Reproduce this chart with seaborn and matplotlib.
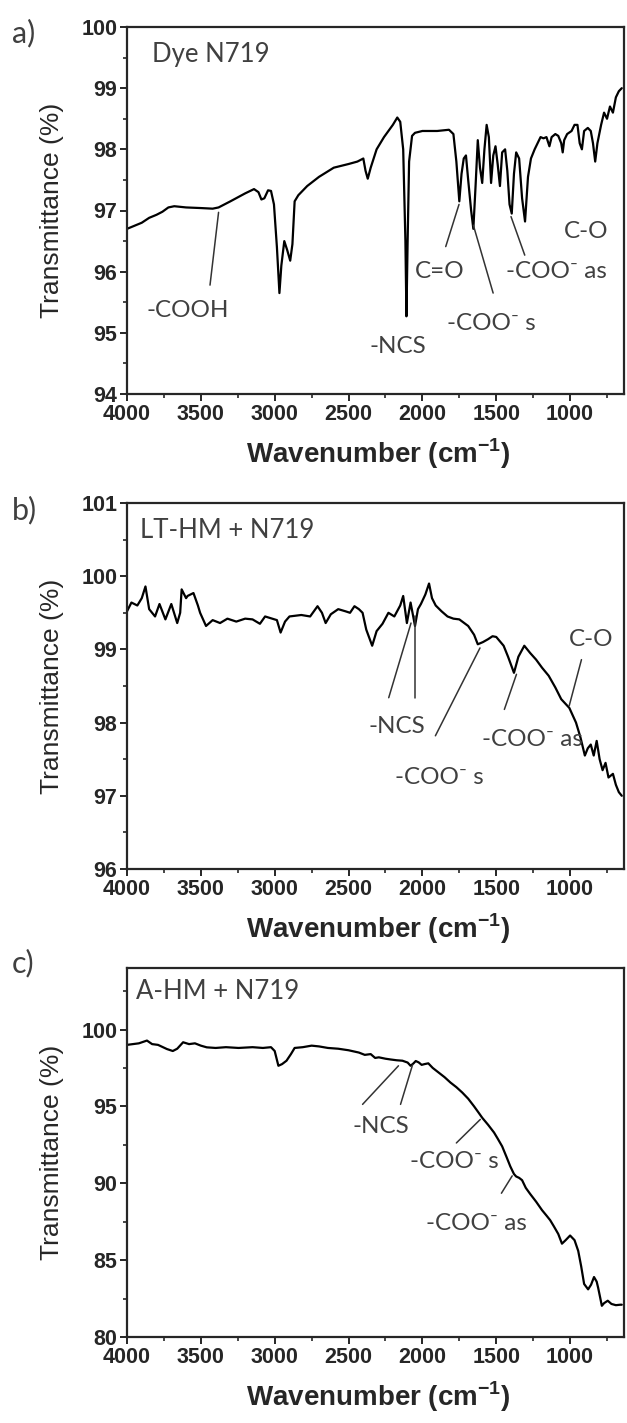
import numpy as np
import pandas as pd
import seaborn as sns
import matplotlib.pyplot as plt
from matplotlib.ticker import MultipleLocator

# FTIR spectra (wavenumber cm-1, transmittance %)

a_wn = [4000, 3950, 3900, 3850, 3800, 3760, 3720, 3680, 3600, 3500, 3420, 3380, 3300, 3200,
        3140, 3110, 3090, 3070, 3045, 3025, 3005, 2985, 2968, 2955, 2935, 2915, 2895, 2880,
        2865, 2840, 2780, 2700, 2600, 2500, 2440, 2400, 2385, 2370, 2350, 2310, 2260, 2200,
        2170, 2150, 2130, 2115, 2108, 2100, 2090, 2070, 2050, 2000, 1900, 1820, 1790, 1770,
        1750, 1735, 1720, 1705, 1690, 1670, 1655, 1640, 1625, 1610, 1595, 1580, 1565, 1550,
        1535, 1520, 1505, 1490, 1475, 1460, 1440, 1425, 1410, 1395, 1380, 1365, 1345, 1325,
        1305, 1285, 1265, 1240, 1220, 1200, 1180, 1160, 1140, 1125, 1100, 1080, 1060, 1050,
        1040, 1020, 990, 970, 950, 935, 920, 905, 880, 860, 845, 830, 815, 790, 770, 750,
        730, 710, 690, 670, 650]
a_T = [96.70, 96.75, 96.80, 96.88, 96.93, 96.98, 97.05, 97.07, 97.05, 97.04, 97.03, 97.05, 97.15, 97.28,
       97.35, 97.30, 97.18, 97.20, 97.33, 97.32, 97.10, 96.40, 95.65, 96.10, 96.50, 96.35, 96.18, 96.45,
       97.15, 97.25, 97.40, 97.55, 97.70, 97.76, 97.80, 97.85, 97.65, 97.52, 97.70, 98.00, 98.20, 98.40,
       98.52, 98.45, 98.00, 96.50, 95.27, 96.50, 97.80, 98.22, 98.27, 98.30, 98.30, 98.32, 98.25, 97.80,
       97.15, 97.60, 97.85, 97.90, 97.50, 97.00, 96.70, 97.40, 98.15, 97.70, 97.45, 98.00, 98.40, 98.20,
       97.45, 97.90, 98.05, 97.75, 97.40, 97.95, 98.00, 97.65, 97.10, 96.95, 97.60, 97.95, 97.85, 97.20,
       96.82, 97.55, 97.85, 98.00, 98.10, 98.20, 98.18, 98.20, 98.05, 98.20, 98.25, 98.22, 98.10, 97.95,
       98.15, 98.25, 98.30, 98.40, 98.40, 98.10, 98.00, 98.30, 98.35, 98.30, 98.10, 97.80, 98.10, 98.40, 98.60, 98.50,
       98.70, 98.60, 98.85, 98.95, 99.00]

b_wn = [4000, 3970, 3930, 3900, 3875, 3850, 3810, 3780, 3740, 3700, 3660, 3640, 3630, 3600,
        3590, 3550, 3520, 3505, 3465, 3420, 3370, 3320, 3260, 3200, 3150, 3100, 3065, 2985,
        2960, 2930, 2900, 2820, 2760, 2735, 2710, 2680, 2655, 2620, 2570, 2520, 2490, 2460,
        2430, 2405, 2380, 2340, 2310, 2270, 2230, 2190, 2150, 2130, 2105, 2080, 2050, 2030,
        2010, 1980, 1955, 1935, 1910, 1870, 1830, 1790, 1750, 1690, 1650, 1625, 1590, 1555,
        1525, 1500, 1450, 1420, 1380, 1350, 1310, 1270, 1230, 1190, 1145, 1100, 1060, 1005,
        960, 930, 900, 880, 860, 840, 820, 800, 780, 760, 740, 710, 690, 670, 650]
b_T = [99.52, 99.64, 99.60, 99.70, 99.86, 99.55, 99.45, 99.62, 99.41, 99.62, 99.36, 99.50, 99.82, 99.70,
       99.73, 99.77, 99.60, 99.50, 99.32, 99.40, 99.36, 99.42, 99.38, 99.42, 99.41, 99.35, 99.45, 99.40,
       99.23, 99.38, 99.45, 99.47, 99.45, 99.52, 99.59, 99.50, 99.36, 99.48, 99.55, 99.52, 99.50, 99.59,
       99.55, 99.50, 99.27, 99.05, 99.25, 99.35, 99.50, 99.45, 99.60, 99.73, 99.36, 99.64, 99.32, 99.55,
       99.62, 99.75, 99.90, 99.70, 99.60, 99.52, 99.45, 99.42, 99.41, 99.32, 99.20, 99.07, 99.10, 99.14,
       99.18, 99.17, 99.05, 98.90, 98.68, 98.90, 99.05, 98.95, 98.86, 98.75, 98.64, 98.48, 98.32, 98.20,
       98.00, 97.80, 97.55, 97.65, 97.70, 97.55, 97.75, 97.50, 97.35, 97.45, 97.25, 97.30, 97.15, 97.05, 97.00]

c_wn = [4000, 3960, 3920, 3865, 3830, 3790, 3730, 3690, 3660, 3620, 3580, 3540, 3500, 3460,
        3400, 3330, 3245, 3150, 3080, 3025, 3000, 2975, 2950, 2920, 2890, 2865, 2810, 2750,
        2700, 2640, 2570, 2500, 2430, 2390, 2350, 2320, 2295, 2250, 2215, 2175, 2135, 2100,
        2080, 2060, 2045, 2025, 2005, 1985, 1960, 1930, 1890, 1850, 1810, 1770, 1730, 1690,
        1650, 1620, 1595, 1555, 1515, 1490, 1460, 1430, 1405, 1380, 1365, 1345, 1325, 1300,
        1270, 1230, 1190, 1160, 1135, 1110, 1080, 1055, 1030, 1000, 970, 945, 925, 905,
        878, 858, 838, 820, 810, 795, 785, 770, 745, 720, 690, 660, 650]
c_T = [99.00, 99.05, 99.10, 99.28, 99.05, 99.00, 98.73, 98.60, 98.75, 99.17, 99.05, 99.10, 98.95, 98.84,
       98.80, 98.85, 98.80, 98.85, 98.80, 98.85, 98.60, 97.64, 97.75, 97.97, 98.40, 98.80, 98.85, 98.95,
       98.90, 98.80, 98.75, 98.65, 98.50, 98.35, 98.40, 98.15, 98.19, 98.10, 98.05, 98.00, 97.97, 97.85,
       97.64, 97.80, 97.95, 97.86, 97.70, 97.75, 97.80, 97.50, 97.20, 96.90, 96.55, 96.25, 95.90, 95.50,
       95.00, 94.60, 94.26, 93.80, 93.30, 92.90, 92.40, 91.70, 91.10, 90.60, 90.44, 90.35, 90.20, 89.70,
       89.30, 88.80, 88.25, 87.90, 87.60, 87.20, 86.70, 86.07, 86.30, 86.60, 86.30, 85.60, 84.60, 83.45,
       83.10, 83.40, 83.90, 83.60, 83.20, 82.50, 82.03, 82.20, 82.36, 82.15, 82.07, 82.10, 82.10]

# peak labels: (text, text x, text y, line start, line end)
a_labels = [("-COOH", 3588, 95.37, (3380, 96.97), (3438, 95.78)),
            ("-NCS", 2163, 94.78, None, None),
            ("C=O", 1882, 96.0, (1842, 96.41), (1752, 97.1)),
            ("-COO⁻ s", 1535, 95.16, (1655, 96.76), (1521, 95.65)),
            ("-COO⁻ as", 1093, 96.0, (1400, 96.9), (1307, 96.27)),
            ("C-O", 893, 96.65, None, None)]
b_labels = [("-NCS", 2173, 97.95, (2228, 98.34), (2077, 99.36)),
            ("", 0, 0, (2050, 98.34), (2050, 99.45)),
            ("-COO⁻ s", 1885, 97.25, (1912, 97.82), (1610, 99.02)),
            ("-COO⁻ as", 1253, 97.77, (1445, 98.18), (1363, 98.66)),
            ("C-O", 855, 99.14, (1006, 98.23), (923, 98.86))]
c_labels = [("-NCS", 2283, 93.71, (2405, 95.13), (2162, 97.64)),
            ("", 0, 0, (2148, 95.13), (2067, 97.69)),
            ("-COO⁻ s", 1784, 91.42, (1770, 92.62), (1608, 94.15)),
            ("-COO⁻ as", 1635, 87.38, (1465, 89.35), (1392, 90.48))]

sns.set_style("ticks")
plt.rcParams['font.family'] = ['Liberation Sans', 'DejaVu Sans']
plt.rcParams['mathtext.fontset'] = 'custom'
plt.rcParams['mathtext.bf'] = 'Liberation Sans:bold'
plt.rcParams['mathtext.rm'] = 'Liberation Sans'

fig = plt.figure(figsize=(6.27, 14.23), dpi=100)
W, H = 627, 1423
left, right = 127, 624

# tag, sample name, data, labels, ylim, major/minor step, axes top/bottom px, tag y, name x/y
panels = [
    ("a)", "Dye N719", a_wn, a_T, a_labels, (94, 100), 1, 0.5, 27, 394, 33, 3830, 99.55),
    ("b)", "LT-HM + N719", b_wn, b_T, b_labels, (96, 101), 1, 0.5, 503, 869, 510, 3910, 100.62),
    ("c)", "A-HM + N719", c_wn, c_T, c_labels, (80, 104), 5, 2.5, 968, 1337, 963, 3940, 102.45),
]

txt_font = ['Lato', 'DejaVu Sans']
txt_col = '#404040'

for tag, name, wn, T, labels, ylim, major, minor, top, bot, tag_y, name_x, name_y in panels:
    ax = fig.add_axes([left / W, 1 - bot / H, (right - left) / W, (bot - top) / H])
    df = pd.DataFrame({"wn": wn, "T": T})
    sns.lineplot(data=df, x="wn", y="T", ax=ax, color="black", lw=1.6,
                 sort=False, estimator=None)
    ax.set_xlim(4000, 635)
    ax.set_ylim(*ylim)
    ax.xaxis.set_minor_locator(MultipleLocator(250))
    ax.yaxis.set_major_locator(MultipleLocator(major))
    ax.yaxis.set_minor_locator(MultipleLocator(minor))
    ax.set_xticks([4000, 3500, 3000, 2500, 2000, 1500, 1000])
    ax.tick_params(which='major', direction='out', length=5, width=1.4, labelsize=15.5, pad=2)
    ax.tick_params(which='minor', direction='out', length=3, width=1.2)
    for lab in ax.get_xticklabels() + ax.get_yticklabels():
        lab.set_fontweight('bold')
    for sp in ax.spines.values():
        sp.set_linewidth(1.6)
    ax.set_xlabel(r"Wavenumber (cm$^{\mathbf{-1}}$)", fontsize=20, fontweight='bold')
    ax.xaxis.set_label_coords(0.505, -60 / (bot - top))
    ax.xaxis.label.set_va('center')
    ax.set_ylabel("Transmittance (%)", fontsize=19)
    ax.yaxis.set_label_coords(-75 / (right - left), 0.5)
    ax.yaxis.label.set_va('center')

    fig.text(12 / W, 1 - tag_y / H, tag, fontsize=22, family=txt_font, color=txt_col, va='center')
    ax.text(name_x, name_y, name, fontsize=18.5, family=txt_font, color=txt_col, va='center')

    for text, tx, ty, p0, p1 in labels:
        if text:
            ax.text(tx, ty, text, fontsize=17.5, family=txt_font, color=txt_col,
                    ha='center', va='center')
        if p0 is not None:
            ax.plot([p0[0], p1[0]], [p0[1], p1[1]], color='#333333', lw=1.1)

fig.savefig("out.png", dpi=100)
